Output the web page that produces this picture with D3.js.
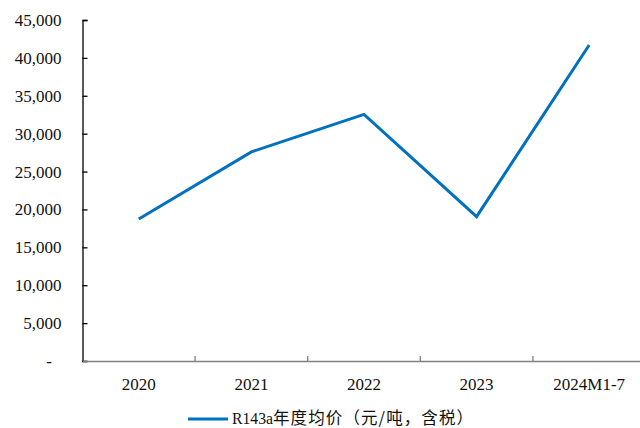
<!DOCTYPE html>
<html>
<head>
<meta charset="utf-8">
<script src="https://cdn.jsdelivr.net/npm/d3@7"></script>
<style>
  html, body { margin: 0; padding: 0; background: #fff; }
  svg { display: block; }
</style>
</head>
<body>
<svg id="chart" width="640" height="428"></svg>
<script>
// R143a annual average price (CNY/ton, tax included)
const categories = ["2020", "2021", "2022", "2023", "2024M1-7"];
const prices = [18750, 27600, 32550, 19050, 41700];
const yTicks = [0, 5000, 10000, 15000, 20000, 25000, 30000, 35000, 40000, 45000];
const seriesCode = "R143a";
const seriesDesc = "年度均价（元/吨，含税）";

const serif = "'Liberation Serif', 'Times New Roman', serif";
const cjk = "'Noto Sans CJK SC', 'Noto Sans CJK JP', sans-serif";

const svg = d3.select("#chart");
const plotLeft = 82.5, plotTop = 20, plotBottom = 361, plotRight = 645.5;

const x = d3.scaleBand().domain(categories).range([plotLeft, plotRight]).padding(0);
const y = d3.scaleLinear().domain([0, 45000]).range([plotBottom, plotTop]);

const fmt = d => d === 0 ? "-" : d3.format(",")(d);

// y axis
const yAxis = svg.append("g")
  .attr("transform", `translate(${plotLeft},0)`)
  .call(d3.axisLeft(y).tickValues(yTicks).tickSize(-5).tickPadding(21).tickFormat(fmt));
yAxis.attr("font-family", null).attr("font-size", null);
yAxis.select(".domain").attr("stroke", "#000").attr("stroke-width", 1.3);
yAxis.selectAll(".tick line").attr("stroke", "#000").attr("stroke-width", 1.3);
yAxis.selectAll(".tick text")
  .style("font-family", serif)
  .style("font-size", "17px")
  .attr("fill", "#111")
  .attr("dx", d => d === 0 ? -9.5 : 0);

// x axis
const xAxis = svg.append("g")
  .attr("transform", `translate(0,${plotBottom})`)
  .call(d3.axisBottom(x).tickSize(0).tickPadding(17));
xAxis.attr("font-family", null).attr("font-size", null);
xAxis.select(".domain").attr("stroke", "#808080").attr("stroke-width", 1.6);
xAxis.selectAll(".tick text")
  .style("font-family", serif)
  .style("font-size", "17px")
  .attr("fill", "#111");

// category boundary ticks pointing up into the plot
svg.append("g").selectAll("line")
  .data(categories.slice(1))
  .join("line")
  .attr("x1", d => x(d)).attr("x2", d => x(d))
  .attr("y1", plotBottom).attr("y2", plotBottom - 5)
  .attr("stroke", "#808080").attr("stroke-width", 1.3);

// price line
const line = d3.line()
  .x((d, i) => x(categories[i]) + x.bandwidth() / 2)
  .y(d => y(d));
svg.append("path")
  .datum(prices)
  .attr("d", line)
  .attr("fill", "none")
  .attr("stroke", "#0070C0")
  .attr("stroke-width", 3)
  .attr("stroke-linejoin", "miter");

// legend
const lg = svg.append("g").attr("transform", "translate(188,419)");
lg.append("line").attr("x1", 0).attr("x2", 40).attr("y1", 0).attr("y2", 0)
  .attr("stroke", "#0070C0").attr("stroke-width", 3);
const lt = lg.append("text").attr("x", 44).attr("y", 4.5).attr("fill", "#111");
lt.append("tspan")
  .style("font-family", serif).style("font-size", "17px")
  .attr("textLength", 41).attr("lengthAdjust", "spacingAndGlyphs")
  .text(seriesCode);
lt.append("tspan")
  .style("font-family", cjk).style("font-size", "16.5px")
  .attr("textLength", 200).attr("lengthAdjust", "spacing")
  .text(seriesDesc);
</script>
</body>
</html>
